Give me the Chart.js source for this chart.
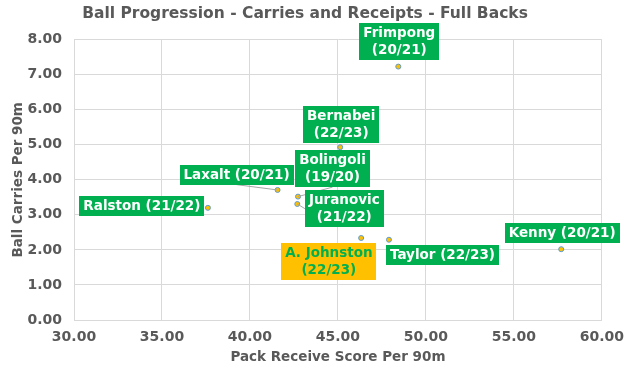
<!DOCTYPE html>
<html>
<head>
<meta charset="utf-8">
<script src="https://cdn.jsdelivr.net/npm/chart.js@4.4.0/dist/chart.umd.min.js"></script>
<style>
  html, body { margin: 0; padding: 0; background: #fff; }
  #wrap { width: 633px; height: 372px; position: relative; }
</style>
</head>
<body>
<div id="wrap"><canvas id="c"></canvas></div>
<script>
(function () {
  'use strict';

  var TEXT = '#595959', GRID = '#D9D9D9', GREEN = '#00B050', GOLD = '#FFC000',
      RING = '#5B9BD5', LEADER = '#A6A6A6';
  var FONT = "'DejaVu Sans', sans-serif";

  /* ---------- data ---------- */
  var players = ['Frimpong', 'Bernabei', 'Bolingoli', 'Laxalt', 'Ralston', 'Juranovic', 'A. Johnston', 'Taylor', 'Kenny'];
  var seasons = ['20/21', '22/23', '19/20', '20/21', '21/22', '21/22', '22/23', '22/23', '20/21'];
  var packReceive = [48.43, 45.13, 42.73, 41.57, 37.61, 42.69, 46.32, 47.90, 57.69];
  var ballCarries = [7.23, 4.93, 3.52, 3.71, 3.20, 3.31, 2.34, 2.29, 2.02];
  var xTicks = [30, 35, 40, 45, 50, 55, 60];
  var yTicks = [0, 1, 2, 3, 4, 5, 6, 7, 8];

  /* ---------- label layout (box centre offset from point, px) ---------- */
  var labelLayout = {
    'Frimpong':    { dx: 1,     dy: -24.6, wrap: true },
    'Bernabei':    { dx: 1,     dy: -23,   wrap: true },
    'Bolingoli':   { dx: 34.5,  dy: -28,   wrap: true, leader: 'bottom' },
    'Laxalt':      { dx: -41,   dy: -15.3, leader: 'bottom' },
    'Ralston':     { dx: -66,   dy: -2.3 },
    'Juranovic':   { dx: 47,    dy: 4.7,   wrap: true, leader: 'left' },
    'A. Johnston': { dx: -32.3, dy: 23.7,  wrap: true, fill: GOLD, color: GREEN },
    'Taylor':      { dx: 53.5,  dy: 15.2 },
    'Kenny':       { dx: 1,     dy: -15.7 }
  };

  var points = packReceive.map(function (x, i) { return { x: x, y: ballCarries[i] }; });

  var labelPlugin = {
    id: 'pointLabels',
    afterDatasetsDraw: function (chart) {
      var ctx = chart.ctx;
      var meta = chart.getDatasetMeta(0);
      ctx.save();
      ctx.font = 'bold 13.5px ' + FONT;
      ctx.textAlign = 'center';
      ctx.textBaseline = 'middle';
      meta.data.forEach(function (el, i) {
        var name = players[i], lay = labelLayout[name];
        var lines = lay.wrap ? [name, '(' + seasons[i] + ')'] : [name + ' (' + seasons[i] + ')'];
        var lh = 17, padX = 4, padY = 1.5;
        var w = 0;
        lines.forEach(function (t) { w = Math.max(w, ctx.measureText(t).width); });
        w += padX * 2;
        var h = lines.length * lh + padY * 2;
        var cx = el.x + lay.dx, cy = el.y + lay.dy;
        var left = cx - w / 2, top = cy - h / 2;

        if (lay.leader) {
          ctx.strokeStyle = LEADER;
          ctx.lineWidth = 1;
          ctx.beginPath();
          if (lay.leader === 'bottom') ctx.moveTo(cx, top + h);
          else ctx.moveTo(left, cy);
          ctx.lineTo(el.x, el.y);
          ctx.stroke();
        }

        ctx.fillStyle = lay.fill || GREEN;
        ctx.fillRect(Math.round(left), Math.round(top), Math.round(w), Math.round(h));
        ctx.fillStyle = lay.color || '#FFFFFF';
        lines.forEach(function (t, k) {
          ctx.fillText(t, cx, top + padY + lh * k + lh / 2 + 0.5);
        });
      });
      ctx.restore();
    }
  };

  new Chart(document.getElementById('c'), {
    type: 'scatter',
    data: {
      datasets: [{
        data: points,
        pointRadius: 2.5,
        pointHoverRadius: 2.5,
        pointBackgroundColor: GOLD,
        pointBorderColor: RING,
        pointBorderWidth: 1
      }]
    },
    options: {
      responsive: true,
      maintainAspectRatio: false,
      animation: false,
      layout: { padding: { left: 8, right: 31, top: 0, bottom: 6 } },
      plugins: {
        legend: { display: false },
        tooltip: { enabled: false },
        title: {
          display: true,
          text: 'Ball Progression - Carries and Receipts - Full Backs',
          color: TEXT,
          font: { family: FONT, size: 15.5, weight: 'bold' },
          padding: { top: 5, bottom: 16 }
        }
      },
      scales: {
        x: {
          type: 'linear', min: xTicks[0], max: xTicks[xTicks.length - 1],
          afterBuildTicks: function (s) { s.ticks = xTicks.map(function (v) { return { value: v }; }); },
          grid: { color: GRID, drawTicks: false },
          border: { color: GRID },
          ticks: {
            color: TEXT, padding: 9,
            font: { family: FONT, size: 14, weight: 'bold' },
            callback: function (v) { return v.toFixed(2); }
          },
          title: {
            display: true, text: 'Pack Receive Score Per 90m', color: TEXT,
            font: { family: FONT, size: 13.5, weight: 'bold' }, padding: { top: 2, bottom: 0 }
          },
          afterFit: function (s) { s.height = 46; }
        },
        y: {
          type: 'linear', min: yTicks[0], max: yTicks[yTicks.length - 1],
          afterBuildTicks: function (s) { s.ticks = yTicks.map(function (v) { return { value: v }; }); },
          grid: { color: GRID, drawTicks: false },
          border: { color: GRID },
          ticks: {
            color: TEXT, padding: 12,
            font: { family: FONT, size: 14, weight: 'bold' },
            callback: function (v) { return v.toFixed(2); }
          },
          title: {
            display: true, text: 'Ball Carries Per 90m', color: TEXT,
            font: { family: FONT, size: 13.5, weight: 'bold' }, padding: { top: 2, bottom: 4 }
          },
          afterFit: function (s) { s.width = 66; }
        }
      }
    },
    plugins: [labelPlugin]
  });
})();
</script>
</body>
</html>
